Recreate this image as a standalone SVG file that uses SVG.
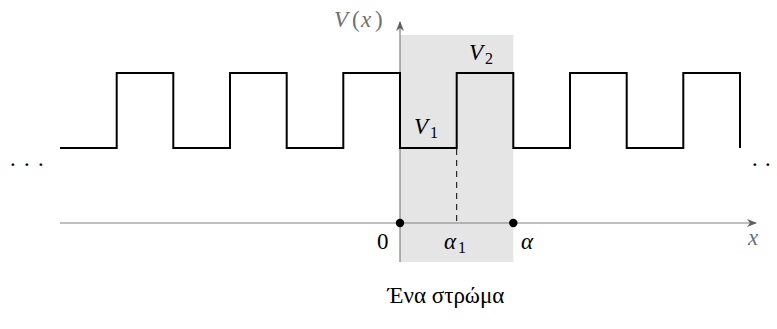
<svg xmlns="http://www.w3.org/2000/svg" width="777" height="329" viewBox="0 0 777 329">
<defs>
<style>
.axis{stroke:#808080;stroke-width:1.2;fill:none}
.wave{stroke:#000;stroke-width:2;fill:none;stroke-linejoin:miter}
.t{font-family:"Liberation Serif","DejaVu Serif",serif;font-size:23px;fill:#000}
.it{font-style:italic}
.up{font-style:normal}
.g{fill:#707070}
.sub{font-size:16px;font-style:normal}
</style>
<marker id="arr" viewBox="0 0 10 10" refX="9" refY="5" markerWidth="10" markerHeight="10" markerUnits="userSpaceOnUse" orient="auto">
<path d="M0,1 L10,5 L0,9 L3,5 Z" fill="#606060"/>
</marker>
</defs>
<rect id="layer" x="400" y="35" width="113.3" height="227" fill="#e5e5e5"/>
<g id="connectors">
<line class="axis" x1="60" y1="223" x2="756" y2="223" marker-end="url(#arr)"/>
<line class="axis" x1="400" y1="262" x2="400" y2="22" marker-end="url(#arr)"/>
<line x1="456.7" y1="149" x2="456.7" y2="223" stroke="#000" stroke-width="1" stroke-dasharray="6,5"/>
</g>
<g id="wave">
<path class="wave" d="M60,148 H116.7 V73 H173.3 V148 H230 V73 H286.7 V148 H343.3 V73 H400 V148 H456.7 V73 H513.3 V148 H570 V73 H626.7 V148 H683.3 V73 H740 V148"/>
</g>
<g id="points">
<circle cx="400" cy="223" r="4.2" fill="#000"/>
<circle cx="513.3" cy="223" r="4.2" fill="#000"/>
</g>
<g id="labels">
<text class="t it g" x="334" y="27" font-size="25">V<tspan class="up" x="352">(</tspan><tspan x="361">x</tspan><tspan class="up" x="375">)</tspan></text>
<text class="t it" x="469" y="60">V<tspan class="sub" x="485" dy="4">2</tspan></text>
<text class="t it" x="414" y="134">V<tspan class="sub" x="430" dy="4">1</tspan></text>
<text class="t" x="377" y="249">0</text>
<text class="t it" x="444" y="249">α<tspan class="sub" x="458" dy="4">1</tspan></text>
<text class="t it" x="521" y="249">α</text>
<text class="t it g" x="748" y="245">x</text>
<text class="t" x="9 23 37" y="172">···</text>
<text class="t" x="751 764" y="172">··</text>
<text class="t" x="446" y="303" text-anchor="middle" font-size="21">Ένα στρώμα</text>
</g>
</svg>
